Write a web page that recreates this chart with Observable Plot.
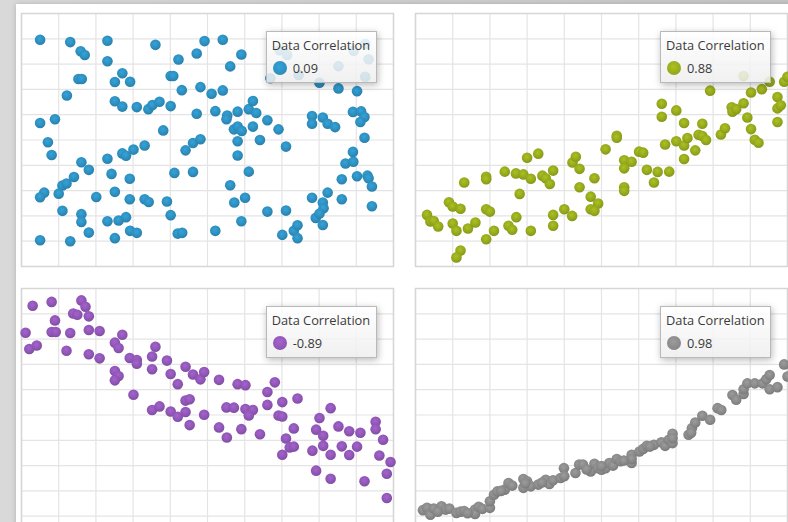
<!DOCTYPE html>
<html>
<head>
<meta charset="utf-8">
<script src="https://cdn.jsdelivr.net/npm/d3@7"></script>
<script src="https://cdn.jsdelivr.net/npm/@observablehq/plot@0.6"></script>
<style>
  html, body { margin: 0; padding: 0; }
  body { width: 788px; height: 522px; overflow: hidden; position: relative;
         background: linear-gradient(to right, #d9d9d9, #c6c6c6); font-family: "Open Sans", sans-serif; }
  #card { position: absolute; left: 16px; top: 4px; width: 800px; height: 540px; background: #fff;
          box-shadow: 0 0 5px rgba(0,0,0,0.18); }
  .panel { position: absolute; }
  .panel svg { max-width: none !important; }
  .legend { position: absolute; width: 109px; height: 50px; border: 1px solid #b9b9b9;
            background: linear-gradient(to bottom, rgba(255,255,255,0.86), rgba(238,238,238,0.86));
            box-shadow: 1px 2px 7px rgba(0,0,0,0.28); color: #3a3a3a; font-size: 12.8px; }
  .legend .title { position: absolute; left: 5px; top: 4px; white-space: nowrap; }
  .legend .row { position: absolute; left: 6px; top: 27px; display: flex; align-items: center; }
  .legend .sw { width: 14px; height: 14px; border-radius: 50%; margin-right: 6px; }
</style>
</head>
<body>
<div id="card"></div>
<script>
// ---- data (x, y), on a 0–10 grid ----
const correlations = ["0.09", "0.88", "-0.89", "0.98"];
const legendTitle = "Data Correlation";
const colors = ["#2e90c0", "#97aa1c", "#9157b7", "#8a8a8a"];
const gridTicks = [0,1,2,3,4,5,6,7,8,9,10];

const panel1 = [
[0.50,8.96],[1.31,8.87],[2.31,8.92],[3.60,8.76],[4.92,8.91],[5.41,8.96],[1.59,8.51],[1.70,8.36],
[2.31,8.11],[4.22,8.18],[4.71,8.42],[5.91,8.38],[5.61,7.91],[2.71,7.64],[1.53,7.41],[1.62,7.41],
[2.51,7.29],[2.92,7.30],[4.01,7.53],[4.08,7.53],[1.22,6.76],[4.31,6.97],[4.81,7.09],[5.11,6.83],
[5.41,6.96],[2.51,6.53],[2.71,6.32],[3.10,6.30],[3.41,6.22],[3.52,6.38],[3.71,6.51],[4.01,6.34],
[4.71,6.04],[5.21,6.14],[5.53,5.97],[5.51,5.82],[5.81,6.12],[6.11,6.22],[6.22,6.54],[6.31,6.07],
[0.50,5.67],[0.90,5.82],[3.81,5.38],[5.71,5.42],[5.81,5.53],[5.92,5.36],[6.22,5.53],[6.61,5.78],
[6.91,5.42],[7.81,5.95],[7.81,5.64],[8.10,5.89],[8.23,5.64],[8.43,5.51],[8.91,6.11],[9.13,6.13],
[9.22,5.91],[9.11,5.71],[9.22,5.09],[0.71,4.91],[0.81,4.41],[2.31,4.26],[2.71,4.47],[2.81,4.38],
[3.01,4.62],[3.31,4.78],[4.41,4.59],[4.61,4.88],[4.81,5.03],[5.81,4.95],[5.81,4.39],[6.41,5.00],
[7.11,4.74],[8.91,4.53],[8.71,4.07],[8.92,4.14],[1.61,4.12],[1.81,3.82],[1.41,3.54],[2.42,3.66],
[2.91,3.47],[4.11,3.70],[4.61,3.74],[6.11,3.75],[8.61,3.45],[9.02,3.57],[9.30,3.59],[9.33,3.49],
[9.42,3.16],[1.10,3.20],[1.21,3.28],[1.00,2.88],[0.61,2.92],[0.50,2.74],[2.01,2.75],[2.51,2.95],
[2.91,2.66],[3.31,2.66],[3.42,2.55],[3.91,2.57],[5.61,3.21],[5.72,2.53],[6.01,2.72],[7.81,2.72],
[8.10,2.53],[8.12,2.30],[8.23,2.92],[8.61,2.66],[1.10,2.20],[1.61,2.07],[1.61,1.76],[2.31,1.79],
[2.61,1.82],[2.81,1.95],[4.01,2.03],[5.91,1.79],[6.61,2.17],[7.11,2.21],[7.91,1.92],[8.01,2.09],
[8.10,1.64],[9.42,2.38],[1.81,1.34],[2.92,1.41],[3.10,1.33],[2.51,1.12],[4.20,1.30],[4.32,1.33],
[5.21,1.41],[7.01,1.25],[7.32,1.41],[7.42,1.63],[7.42,1.12],[0.50,1.04],[1.31,1.00],
[8.01,7.26],[8.52,7.04],[9.02,6.93],
[6.94,8.55],[7.14,8.36],[7.45,7.57],[8.52,7.92],[8.93,8.53],[9.24,8.79],[9.33,8.19],[9.24,7.50],[6.69,7.44]
];

const panel2 = [
[0.31,2.04],[0.40,1.78],[0.49,1.80],[0.61,1.58],[0.90,2.54],[1.00,2.37],[1.21,2.28],[1.00,1.70],
[1.10,1.41],[1.21,0.63],[1.10,0.36],[1.41,1.50],[1.61,1.74],[1.31,3.32],[1.90,3.55],[1.90,3.45],
[1.90,2.26],[2.00,2.17],[1.90,1.08],[2.11,1.41],[2.40,3.75],[2.70,3.68],[2.90,3.64],[3.10,3.47],
[3.00,4.30],[3.30,4.46],[2.80,2.87],[2.71,1.95],[2.50,1.61],[2.60,1.45],[3.10,1.41],[3.41,3.59],
[3.50,3.49],[3.61,3.26],[3.70,3.79],[3.70,2.04],[3.70,1.61],[4.00,2.26],[4.21,2.00],[4.22,4.11],
[4.31,4.34],[4.41,3.86],[4.41,3.13],[4.71,2.76],[4.81,3.49],[4.91,2.49],[4.71,2.26],[4.81,2.20],
[5.11,4.63],[5.41,5.17],[5.41,5.09],[5.61,4.20],[5.81,4.14],[5.61,3.88],[5.61,3.13],[5.61,2.99],
[6.01,4.54],[6.12,4.50],[6.22,3.82],[6.41,3.32],[6.51,3.74],[6.82,3.75],[6.62,6.43],[6.62,5.92],
[7.01,6.17],[6.71,4.82],[7.01,4.95],[7.22,5.67],[7.22,4.78],[7.31,5.08],[7.22,4.25],[7.52,4.59],
[7.71,5.64],[7.61,5.21],[7.71,5.16],[7.81,5.00],[7.92,6.95],[8.21,5.22],[8.32,5.46],[8.50,6.29],
[8.52,6.12],[8.62,6.22],[8.82,6.45],[8.92,5.89],[9.02,6.88],[9.02,5.43],[9.12,5.01],[9.22,4.89],
[9.31,7.01],[9.52,7.30],[9.73,6.70],[9.73,6.25],[9.82,6.37],[9.73,5.71],[9.91,7.30],[10.0,7.50],
[8.82,7.53]
];

const panel3 = [
[0.11,8.25],[0.21,7.61],[0.41,7.75],[0.30,9.32],[0.81,9.47],[0.81,8.28],[0.92,8.28],[0.90,8.74],
[1.21,7.54],[1.31,8.24],[1.39,9.01],[1.50,8.96],[1.61,9.53],[1.72,9.28],[1.81,8.90],[1.81,8.36],
[1.81,7.40],[2.10,8.32],[2.10,7.24],[2.51,7.86],[2.61,7.65],[2.71,8.17],[2.51,6.74],[2.61,6.54],
[2.51,6.37],[2.91,7.25],[3.10,7.17],[3.10,7.03],[3.01,5.80],[3.51,7.31],[3.60,7.70],[3.51,6.81],
[3.91,7.15],[4.01,6.62],[4.20,6.22],[4.41,6.91],[4.61,6.60],[4.81,6.41],[4.91,6.70],[5.31,6.39],
[5.81,6.22],[6.02,6.18],[6.61,5.91],[6.81,6.29],[3.51,5.20],[3.71,5.34],[4.01,5.14],[4.20,4.93],
[4.41,5.57],[4.52,5.62],[4.41,5.12],[4.52,4.60],[4.91,5.01],[5.31,4.51],[5.51,5.30],[5.71,5.29],
[5.52,4.11],[5.91,4.44],[6.02,5.24],[6.22,5.20],[6.11,4.98],[6.41,4.24],[6.61,5.40],[6.91,4.98],
[7.01,4.94],[7.01,5.51],[7.42,5.65],[7.11,4.07],[7.32,4.47],[7.21,3.72],[7.32,3.75],[7.01,3.43],
[7.82,3.59],[7.92,4.42],[8.01,4.88],[8.11,4.18],[8.11,3.78],[8.31,5.27],[8.31,3.43],[7.92,2.80],
[8.31,2.48],[8.52,4.55],[8.61,3.76],[8.81,4.36],[8.81,3.42],[9.02,3.75],[9.11,4.30],[9.52,4.73],
[9.52,4.44],[9.72,4.02],[9.62,3.40],[9.92,3.14],[9.82,2.68],[9.22,2.38],[9.82,1.72]
];

const panel4 = [
[0.20,1.24],[0.31,1.33],[0.40,1.06],[0.49,1.30],[0.70,1.39],[0.81,1.26],[0.91,1.30],[1.10,1.13],
[1.21,1.18],[1.31,1.20],[1.60,1.26],[1.60,1.09],[1.70,1.37],[1.80,1.29],[2.00,1.33],[2.00,1.59],
[2.11,1.85],[2.20,1.98],[2.40,2.05],[2.50,2.31],[2.60,2.21],[2.90,2.47],[2.90,2.12],[3.00,2.38],
[3.10,2.18],[3.30,2.25],[3.50,2.44],[3.60,2.27],[3.70,2.42],[3.90,2.51],[3.99,2.90],[4.00,2.58],
[4.30,2.71],[4.40,3.04],[4.50,3.04],[4.71,2.77],[4.81,3.07],[4.91,2.90],[5.00,2.84],[5.11,2.90],
[5.21,3.10],[5.31,3.00],[5.41,3.26],[5.51,3.17],[5.81,3.43],[5.81,3.10],[5.81,3.26],[6.02,3.56],
[6.12,3.66],[6.22,3.78],[6.41,3.82],[6.61,3.92],[6.71,3.78],[6.81,4.02],[6.91,4.26],[6.91,3.89],
[6.91,4.08],[7.34,4.22],[7.43,4.48],[7.52,4.70],[7.41,4.30],[7.71,4.97],[7.92,4.81],[8.12,5.27],
[8.22,5.20],[8.52,5.79],[8.62,5.60],[8.82,5.83],[8.82,6.02],[8.92,6.25],[9.12,6.25],[9.33,6.25],
[9.43,6.41],[9.52,6.58],[9.52,6.02],[9.73,6.10],[9.91,7.00],[10.0,6.52],
[0.60,1.18],[1.40,1.12],[2.30,2.00],[2.95,2.30],[3.40,2.33],[4.60,2.85],[5.00,2.98],[5.60,3.20],[6.30,3.75]
];

const panels = [panel1, panel2, panel3, panel4];

// layout of the four plot areas
const plotW = 372, plotH = 253, pad = 10;
const origins = [[20.7, 13.3], [415, 13.3], [20.7, 288.3], [415, 288.3]];

const ns = "http://www.w3.org/2000/svg";
function addGradient(svg, id, base) {
  const c = d3.color(base);
  const defs = document.createElementNS(ns, "defs");
  const g = document.createElementNS(ns, "radialGradient");
  g.setAttribute("id", id);
  g.setAttribute("cx", "45%"); g.setAttribute("cy", "40%"); g.setAttribute("r", "60%");
  const stops = [[0, c.brighter(0.35)], [0.6, c], [1, c.darker(0.35)]];
  for (const [o, col] of stops) {
    const s = document.createElementNS(ns, "stop");
    s.setAttribute("offset", o);
    s.setAttribute("stop-color", col.formatHex());
    g.appendChild(s);
  }
  defs.appendChild(g);
  svg.insertBefore(defs, svg.firstChild);
}

panels.forEach((data, i) => {
  const gid = "dotgrad" + i;
  const chart = Plot.plot({
    width: plotW + 2 * pad,
    height: plotH + 2 * pad,
    margin: pad,
    style: { background: "transparent", overflow: "visible", maxWidth: "none" },
    x: { domain: [0, 10], axis: null },
    y: { domain: [0, 10], axis: null },
    marks: [
      Plot.ruleX(gridTicks, { stroke: "#e4e4e4", strokeWidth: 1.2 }),
      Plot.ruleY(gridTicks, { stroke: "#e4e4e4", strokeWidth: 1.2 }),
      Plot.frame({ stroke: "#d6d6d6", strokeWidth: 1.5 }),
      Plot.dot(data, { x: d => d[0], y: d => d[1], r: 5.3, fill: `url(#${gid})`, stroke: "none" })
    ]
  });
  chart.setAttribute("width", plotW + 2 * pad);
  chart.setAttribute("height", plotH + 2 * pad);
  addGradient(chart, gid, colors[i]);
  const wrap = document.createElement("div");
  wrap.className = "panel";
  wrap.style.left = (origins[i][0] - pad) + "px";
  wrap.style.top = (origins[i][1] - pad) + "px";
  wrap.style.width = (plotW + 2 * pad) + "px";
  wrap.style.height = (plotH + 2 * pad) + "px";
  wrap.appendChild(chart);
  document.body.appendChild(wrap);

  // legend box
  const lg = document.createElement("div");
  lg.className = "legend";
  lg.style.left = (origins[i][0] + plotW - 127) + "px";
  lg.style.top = (origins[i][1] + 17.4) + "px";
  const c = d3.color(colors[i]);
  lg.innerHTML = `<div class="title">${legendTitle}</div>
    <div class="row"><div class="sw" style="background: radial-gradient(circle at 45% 40%, ${c.brighter(0.35).formatHex()}, ${colors[i]} 60%, ${c.darker(0.35).formatHex()})"></div><span>${correlations[i]}</span></div>`;
  document.body.appendChild(lg);
});
</script>
</body>
</html>
